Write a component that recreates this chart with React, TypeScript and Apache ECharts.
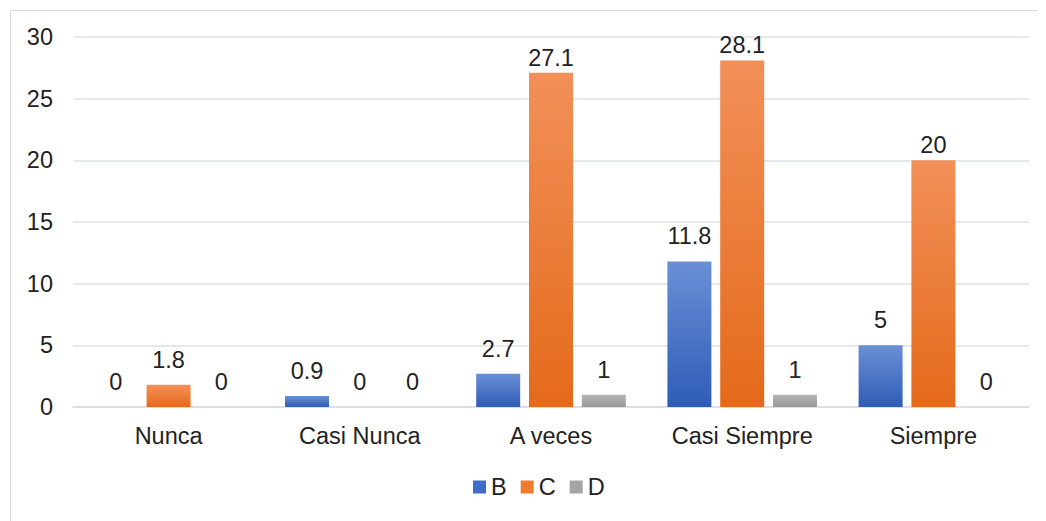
import React, { useEffect, useRef } from "react";
import * as echarts from "echarts";

const categories = ["Nunca", "Casi Nunca", "A veces", "Casi Siempre", "Siempre"];
const seriesNames = ["B", "C", "D"];
const valuesB = [0, 0.9, 2.7, 11.8, 5];
const valuesC = [1.8, 0, 27.1, 28.1, 20];
const valuesD = [0, 0, 1, 1, 0];
const yTicks = { min: 0, max: 30, interval: 5 };

const grad = (top: string, bottom: string) =>
  new echarts.graphic.LinearGradient(0, 0, 0, 1, [
    { offset: 0, color: top },
    { offset: 1, color: bottom },
  ]);

export default function App() {
  const ref = useRef<HTMLDivElement>(null);
  useEffect(() => {
    if (!ref.current) return;
    const chart = echarts.init(ref.current, undefined, { renderer: "svg" });
    const font = "Liberation Sans, Arial, sans-serif";
    const fs = 23.5;
    const colors = [
      grad("#6a8fd6", "#2e5db6"),
      grad("#f29059", "#e46a1a"),
      grad("#b5b5b5", "#999999"),
    ];
    const legendColors = ["#3f6cc4", "#ee7b30", "#a5a5a5"];
    const all = [valuesB, valuesC, valuesD];
    // label placement tweak (style only): tall bars have labels closer to the bar top
    const nearTop = (v: number) => v >= 20;
    chart.setOption({
      animation: false,
      textStyle: { fontFamily: font },
      graphic: [
        {
          type: "rect",
          left: 0,
          top: 0,
          shape: { x: 0.5, y: 0.5, width: 1200, height: 700 },
          style: { fill: "none", stroke: "#d9d9d9", lineWidth: 1 },
          silent: true,
        },
      ],
      grid: { left: 65, right: 17, top: 29, bottom: 114 },
      legend: {
        top: 462,
        left: 460,
        itemWidth: 13,
        itemHeight: 13,
        itemGap: 14,
        icon: "rect",
        textStyle: { fontSize: fs, color: "#222", fontFamily: font },
        data: seriesNames.map((n, i) => ({ name: n, itemStyle: { color: legendColors[i] } })),
      },
      xAxis: {
        type: "category",
        data: categories,
        axisLine: { show: true, lineStyle: { color: "#d9dde3", width: 1.5 } },
        axisTick: { show: false },
        axisLabel: { fontSize: fs, color: "#222", margin: 17, fontFamily: font },
      },
      yAxis: {
        type: "value",
        min: yTicks.min,
        max: yTicks.max,
        interval: yTicks.interval,
        axisLine: { show: false },
        axisTick: { show: false },
        splitLine: { lineStyle: { color: "#dde1e7", width: 1.5 } },
        axisLabel: { fontSize: fs, color: "#222", margin: 20, fontFamily: font },
      },
      series: seriesNames.map((name, i) => ({
        name,
        type: "bar",
        data: all[i].map((v) =>
          nearTop(v) ? { value: v, label: { distance: 3 } } : v
        ),
        barWidth: 44,
        barGap: "20%",
        itemStyle: { color: colors[i] },
        label: {
          show: true,
          position: "top",
          distance: 13,
          fontSize: fs,
          color: "#222",
          fontFamily: font,
        },
      })),
    });
    return () => chart.dispose();
  }, []);
  return <div ref={ref} style={{ width: 1038, height: 513 }} />;
}
